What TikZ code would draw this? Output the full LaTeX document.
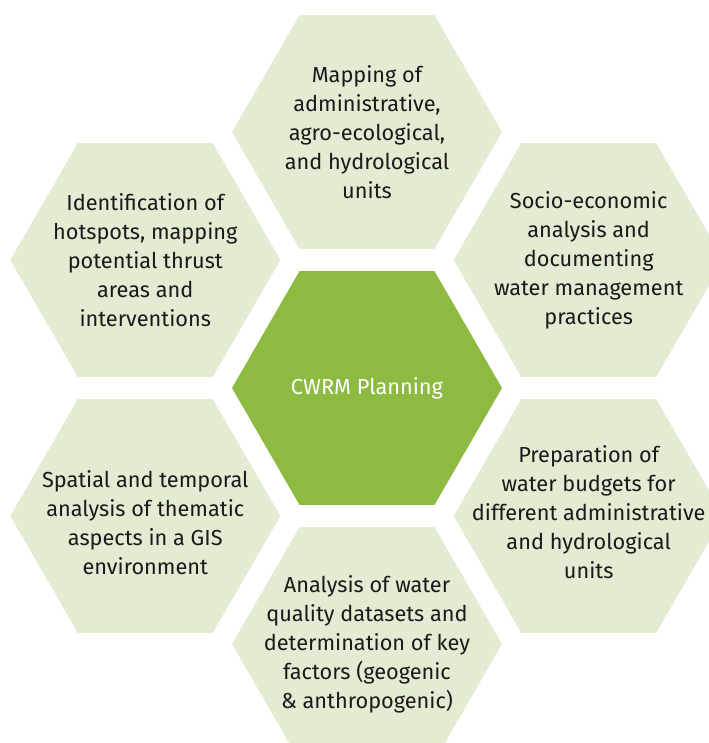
\documentclass[tikz,border=0pt]{standalone}
\usepackage{fontspec}
\setmainfont{Fira Sans}
\usetikzlibrary{shapes.geometric}

\definecolor{hexlight}{HTML}{E3EBD3}
\definecolor{hexgreen}{HTML}{8DBB41}
\definecolor{hextext}{HTML}{1A1A1A}

\begin{document}
\begin{tikzpicture}[
    x=0.75pt, y=0.75pt,
    hexa/.style={regular polygon, regular polygon sides=6, minimum size=202.5pt, inner sep=0pt, fill=hexlight},
    core/.style={hexa, fill=hexgreen},
    txt/.style={align=center, text=hextext, font=\fontsize{16.3}{21.75}\selectfont}
]
    \useasboundingbox (-367,-355) rectangle (342,388);

    % hexagons
    \node[core] (cwrm) at (0,0) {};
    \node[hexa] (units) at (90:256) {};
    \node[hexa] (socio) at (30:256) {};
    \node[hexa] (budget) at (-30:256) {};
    \node[hexa] (quality) at (-90:256) {};
    \node[hexa] (gis) at (-150:256) {};
    \node[hexa] (hotspot) at (150:256) {};

    % labels
    \node[txt, text=white] (cwrmtxt) at (cwrm) {CWRM Planning};
    \node[txt] (unitstxt) at (units) {Mapping of\\administrative,\\agro-ecological,\\and hydrological\\units};
    \node[txt] (sociotxt) at (socio) {Socio-economic\\analysis and\\documenting\\water management\\practices};
    \node[txt, yshift=3] (budgettxt) at (budget) {Preparation of\\water budgets for\\different administrative\\and hydrological\\units};
    \node[txt] (qualitytxt) at (quality) {Analysis of water\\quality datasets and\\determination of key\\factors (geogenic\\\& anthropogenic)};
    \node[txt, yshift=-5] (gistxt) at (gis) {Spatial and temporal\\analysis of thematic\\aspects in a GIS\\environment};
    \node[txt] (hotspottxt) at (hotspot) {Identification of\\hotspots, mapping\\potential thrust\\areas and\\interventions};
\end{tikzpicture}
\end{document}
